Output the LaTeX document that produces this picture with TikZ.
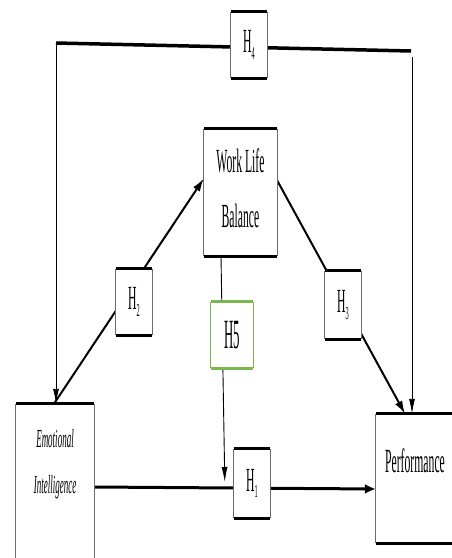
\documentclass[tikz,border=0pt]{standalone}
\usepackage{fontspec}
\setmainfont{Liberation Serif}
\usepackage{graphicx}
\usetikzlibrary{arrows.meta,backgrounds,calc}
\definecolor{hgreen}{RGB}{122,183,78}
\newcommand\cnd[2]{\scalebox{#1}[1.3]{#2}}
\newcommand\hlab[1]{\cnd{0.45}{H\raisebox{-5pt}{\fontsize{14}{14}\selectfont #1}}}
\tikzset{
  box/.style={fill=white, draw=none, inner sep=0pt},
  lbl/.style={inner sep=0pt, align=center},
  side/.style={draw=gray!85!black, line width=1pt},
  edge/.style={draw=black, line width=3pt},
  gside/.style={draw=hgreen, line width=1pt},
  gedge/.style={draw=hgreen, line width=3pt},
  thinarrow/.style={line width=0.9pt, -{Latex[length=15pt,width=6pt]}},
  diagarrow/.style={line width=2pt, -{Latex[length=13pt,width=8pt]}},
  thickarrow/.style={line width=3pt, -{Latex[length=11pt,width=10pt]}},
  thickline/.style={line width=3.5pt},
}
\begin{document}
\begin{tikzpicture}[x=1pt,y=-1pt]
\useasboundingbox (0,0) rectangle (451,558);
% boxes
\node[box, minimum width=78pt, minimum height=154pt] (ei) at (55,481) {};
\node[box, minimum width=78pt, minimum height=129pt] (perf) at (415,478.5) {};
\node[box, minimum width=73pt, minimum height=127pt] (wlb) at (240.5,192.5) {};
\node[box, minimum width=42pt, minimum height=66pt] (h5) at (232,335) {};
\node[box, minimum width=36pt, minimum height=66pt] (h4) at (249,45) {};
\node[box, minimum width=36pt, minimum height=66pt] (h2) at (134,302) {};
\node[box, minimum width=36pt, minimum height=68pt] (h3) at (343,305) {};
\node[box, minimum width=36pt, minimum height=69pt] (h1) at (252,483.5) {};
% texts
\node[lbl, font=\fontsize{20}{46}\selectfont\itshape] (eit) at (55,464)
  {\cnd{0.45}{Emotional}\\\cnd{0.45}{Intelligence}};
\node[lbl, font=\fontsize{26}{30}\selectfont] (perft) at (415,461) {\cnd{0.45}{Performance}};
\node[lbl, font=\fontsize{26}{55}\selectfont] (wlbt) at (240.5,188) {\cnd{0.45}{Work Life}\\\cnd{0.45}{Balance}};
\node[lbl, font=\fontsize{32}{32}\selectfont] (h5t) at (h5) {\cnd{0.4}{H5}};
\node[lbl, font=\fontsize{26}{26}\selectfont] (h4t) at (h4) {\hlab{4}};
\node[lbl, font=\fontsize{26}{26}\selectfont] (h2t) at (h2) {\hlab{2}};
\node[lbl, font=\fontsize{26}{26}\selectfont] (h3t) at (h3) {\hlab{3}};
\node[lbl, font=\fontsize{26}{26}\selectfont] (h1t) at (h1) {\hlab{1}};
% frames
\foreach \n in {wlb,h4,h2,h3,h1}{
  \draw[side] (\n.north west) -- (\n.south west);
  \draw[side] (\n.north east) -- (\n.south east);
  \draw[edge] (\n.north west) -- (\n.north east);
  \draw[edge] (\n.south west) -- (\n.south east);
}
\draw[gside] (h5.north west) -- (h5.south west);
\draw[gside] (h5.north east) -- (h5.south east);
\draw[gedge] (h5.north west) -- (h5.north east);
\draw[gedge] (h5.south west) -- (h5.south east);
\draw[side] (ei.north west) -- (ei.south west);
\draw[side] (ei.north east) -- (ei.south east);
\draw[edge] (ei.north west) -- (ei.north east);
\draw[side] (perf.north west) -- (perf.south west);
\draw[edge] (perf.north west) -- (perf.north east);
\draw[edge] (perf.south west) -- (perf.south east);
% connectors
\coordinate (tl) at (56,43);
\coordinate (tr) at (411,51);
\coordinate (trv) at (412,57);
\begin{scope}[on background layer]
  \draw[thickline] (tl) -- (tr);
  \draw[thinarrow] (tl) -- (tl |- ei.north);
  \draw[thinarrow] (trv) -- (trv |- perf.north);
  \draw[diagarrow] ([xshift=-1pt]ei.north) -- ([yshift=14pt]wlb.west);
  \draw[diagarrow] ([yshift=12pt]wlb.east) -- ([xshift=-10pt]perf.north);
  \draw[thinarrow] ([xshift=-19.5pt]wlb.south) -- ([xshift=-9pt,yshift=1.5pt]h1.west);
  \draw[thickarrow] ([yshift=-6pt]ei.east) -- ([yshift=-10.5pt]perf.west);
\end{scope}
\end{tikzpicture}
\end{document}
